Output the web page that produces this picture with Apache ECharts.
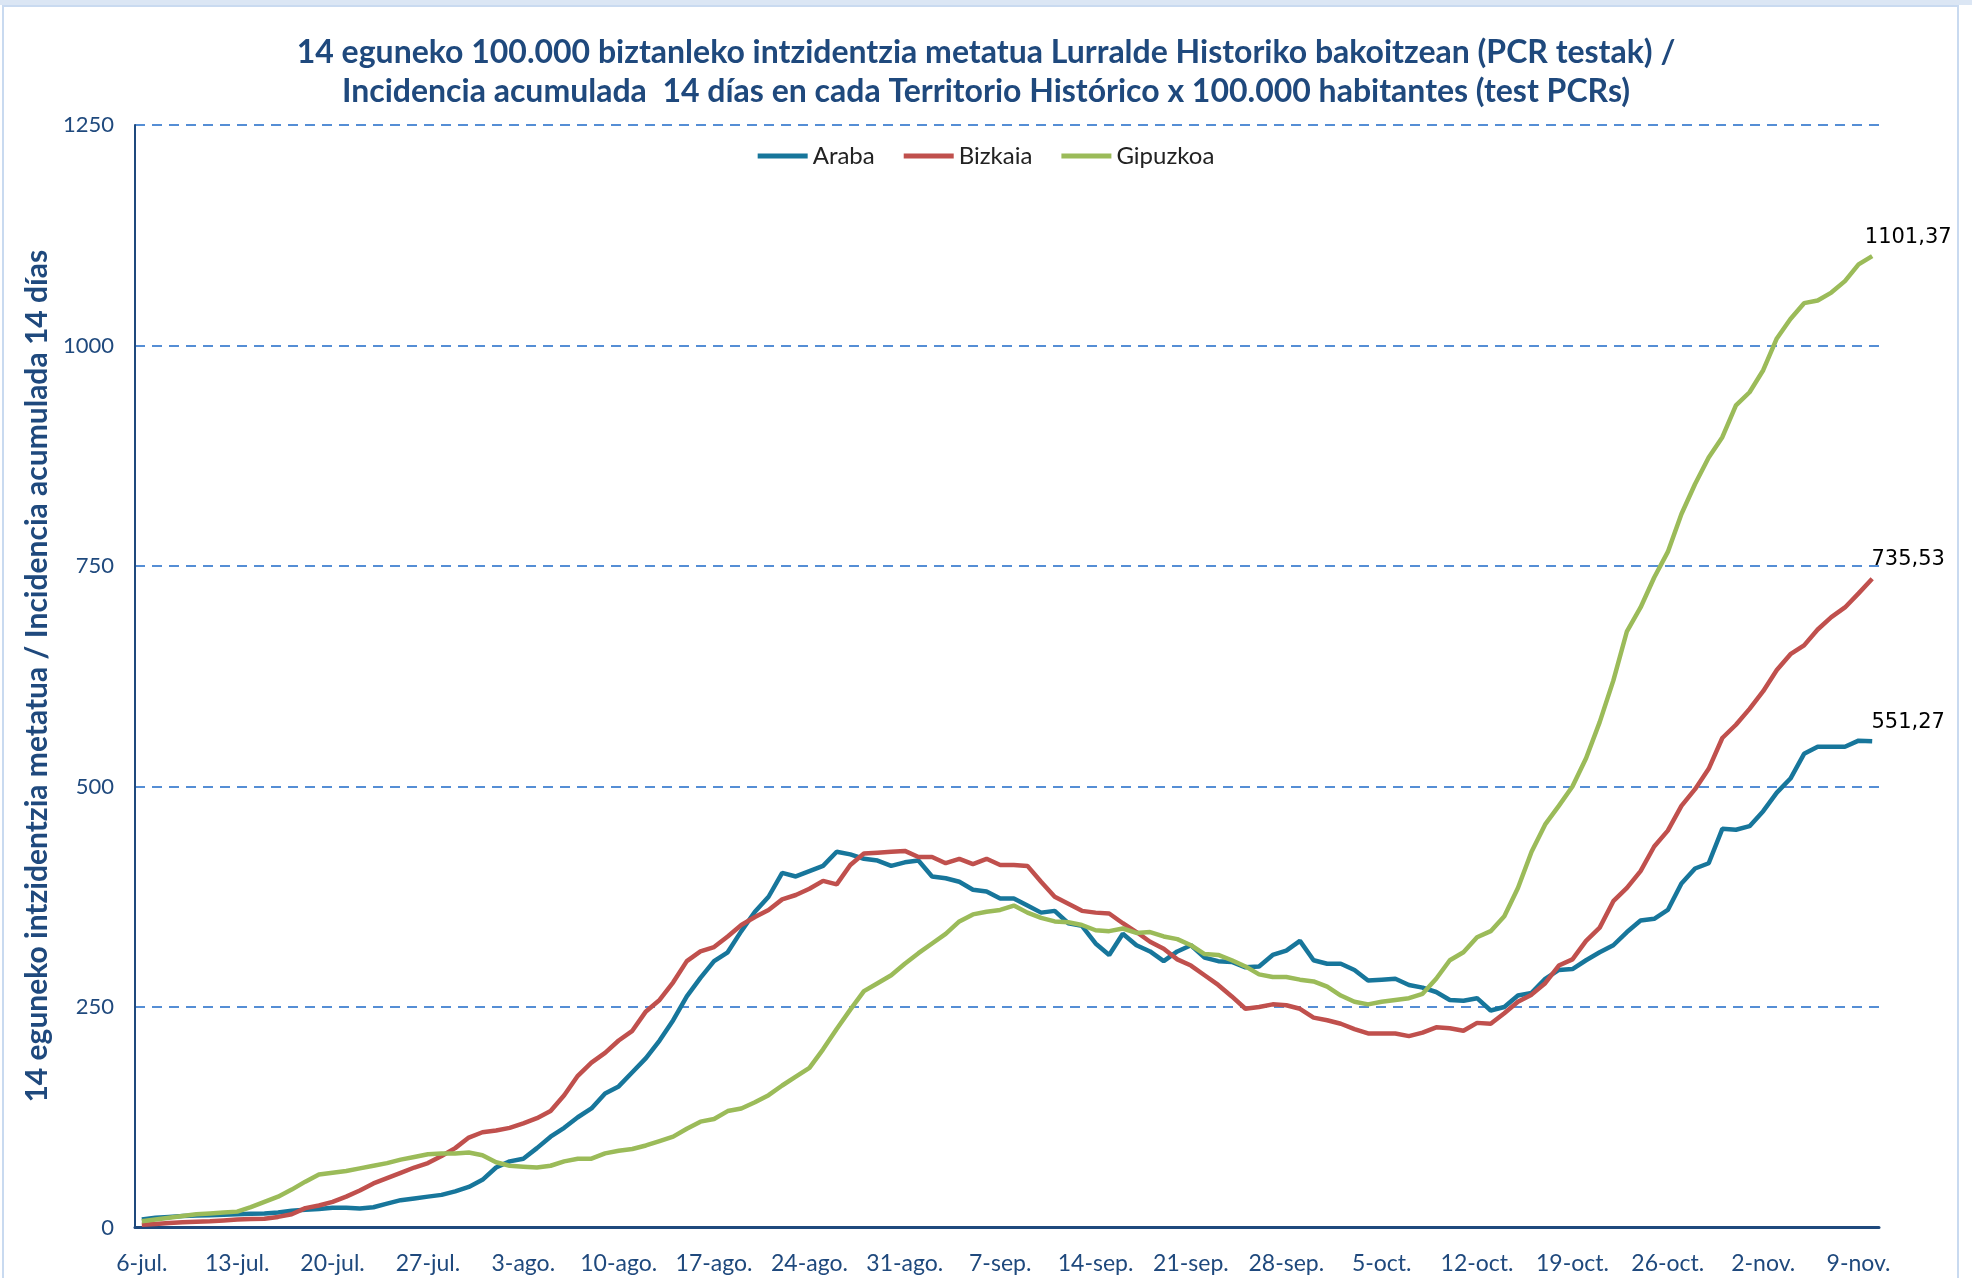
<!DOCTYPE html>
<html>
<head>
<meta charset="utf-8">
<script src="https://cdn.jsdelivr.net/npm/echarts@6/dist/echarts.min.js"></script>
<style>
  html, body { margin: 0; padding: 0; background: #fff; }
  #chart { position: absolute; left: 0; top: 0; width: 1972px; height: 1278px; }
  #topband { position: absolute; left: 0; top: 0; width: 1972px; height: 5px; background: #dbe6f4; }
  #frame { position: absolute; left: 2px; top: 5px; width: 1953px; height: 1300px; border: 2px solid #c9daf0; pointer-events: none; }
</style>
</head>
<body>
<div id="chart"></div>
<div id="topband"></div>
<div id="frame"></div>
<script>
// daily values, 6-jul. -> 10-nov. (128 days)
const startDay = [2020, 6, 6] // year, month index (0-based), day
const dayCount = 128
const monthNames = ['ene', 'feb', 'mar', 'abr', 'may', 'jun', 'jul', 'ago', 'sep', 'oct', 'nov', 'dic']

const seriesNames = ['Araba', 'Bizkaia', 'Gipuzkoa']
const seriesColors = ['#17769b', '#c0504d', '#9bbb59']

const araba = [
  9, 11, 12, 13, 13.5, 14, 14.5, 15, 15.5, 16, 17, 19, 20, 21, 22.5, 22.5, 21.5, 23, 27, 31, 33, 35,
  37, 41, 46, 54, 68, 75, 78, 90, 103, 113, 125, 135, 152, 160, 176, 192, 212, 235, 262, 283, 302,
  312, 336, 358, 375, 402, 398, 404, 410, 426, 423, 418, 416, 410, 414, 416, 398, 396, 392, 383, 381, 373,
  373, 365, 357, 359, 345, 342, 322, 309, 333, 320, 313, 302, 313, 320, 306, 302, 301, 295, 296, 309, 314,
  325, 303, 299, 299, 292, 280, 281, 282, 275, 272, 267, 258, 257, 260, 246, 250, 263, 266, 282, 292, 293,
  303, 312, 320, 335, 348, 350, 360, 390, 407, 413, 452, 451, 455, 472, 493, 509, 537, 545, 545, 545, 552, 551.27
]
const bizkaia = [
  3, 4, 5, 6, 6.5, 7, 8, 9, 9.5, 10, 12, 15, 22, 25, 29, 35, 42, 50, 56, 62, 68, 73,
  81, 90, 102, 108, 110, 113, 118, 124, 132, 150, 172, 187, 198, 212, 223, 245, 258, 278, 302, 313, 318,
  330, 343, 352, 360, 372, 377, 384, 393, 389, 411, 424, 425, 426, 427, 420, 420, 413, 418, 412, 418, 411,
  411, 410, 392, 375, 367, 359, 357, 356, 345, 335, 324, 316, 304, 297, 286, 275, 262, 248, 250, 253, 252,
  248, 238, 235, 231, 225, 220, 220, 220, 217, 221, 227, 226, 223, 232, 231, 243, 256, 264, 277, 297, 304,
  325, 340, 370, 385, 404, 432, 450, 478, 497, 520, 555, 570, 588, 608, 632, 650, 660, 678, 692, 703, 719, 735.53
]
const gipuzkoa = [
  7, 9, 11, 13, 15, 16, 17, 18, 23, 29, 35, 43, 52, 60, 62, 64, 67, 70, 73, 77, 80, 83,
  84, 84, 85, 82, 74, 70, 69, 68, 70, 75, 78, 78, 84, 87, 89, 93, 98, 103, 112, 120, 123,
  132, 135, 142, 150, 161, 171, 181, 202, 225, 247, 268, 277, 286, 299, 311, 322, 333, 347, 355, 358, 360,
  365, 357, 351, 347, 346, 343, 337, 336, 339, 334, 335, 330, 327, 320, 310, 309, 303, 296, 287, 284, 284,
  281, 279, 273, 263, 256, 253, 256, 258, 260, 265, 282, 303, 312, 329, 336, 353, 385, 426, 457, 478, 500,
  532, 573, 620, 676, 703, 737, 766, 809, 843, 873, 896, 932, 947, 972, 1008, 1030, 1048, 1051, 1060, 1073, 1092, 1101.37
]

const yMax = 1250
const yStep = 250

const categories = []
for (let i = 0; i < dayCount; i++) {
  const d = new Date(Date.UTC(startDay[0], startDay[1], startDay[2] + i))
  categories.push(d.getUTCDate() + '-' + monthNames[d.getUTCMonth()] + '.')
}

const navy = '#1f497d'
const font = 'Lato, "Open Sans", sans-serif'
const fmt = (v) => v.toFixed(2).replace('.', ',')

function makeSeries(name, values, color) {
  const last = values.length - 1
  return {
    name,
    type: 'line',
    data: values,
    showSymbol: false,
    smooth: false,
    lineStyle: { color, width: 4.5 },
    itemStyle: { color },
    markPoint: {
      symbol: 'circle',
      symbolSize: 1,
      itemStyle: { color: 'rgba(0,0,0,0)' },
      data: [{ coord: [categories[last], values[last]], value: values[last] }],
      label: {
        show: true,
        position: 'top',
        distance: 8,
        offset: [36, 0],
        color: '#000',
        fontFamily: '"DejaVu Sans", sans-serif',
        fontSize: 21,
        formatter: (p) => fmt(p.value),
      },
    },
  }
}

const chart = echarts.init(document.getElementById('chart'))
chart.setOption({
  animation: false,
  backgroundColor: '#fff',
  title: {
    text: '14 eguneko 100.000 biztanleko intzidentzia metatua Lurralde Historiko bakoitzean (PCR testak) /\nIncidencia acumulada  14 días en cada Territorio Histórico x 100.000 habitantes (test PCRs)',
    left: 'center',
    top: 28,
    textStyle: {
      color: navy,
      fontFamily: font,
      fontWeight: 'bold',
      fontSize: 32,
      lineHeight: 39,
    },
  },
  legend: {
    data: seriesNames,
    top: 139,
    left: 'center',
    icon: 'rect',
    itemWidth: 50,
    itemHeight: 5,
    itemGap: 29,
    textStyle: { color: '#222', fontFamily: font, fontSize: 24 },
  },
  grid: { left: 135, right: 93, top: 125, bottom: 50.5, containLabel: false },
  xAxis: {
    type: 'category',
    data: categories,
    boundaryGap: true,
    axisLine: { show: true, lineStyle: { color: navy, width: 3 } },
    axisTick: { show: false },
    axisLabel: {
      interval: 6,
      color: navy,
      fontFamily: font,
      fontSize: 23,
      margin: 25,
    },
    splitLine: { show: false },
  },
  yAxis: {
    type: 'value',
    min: 0,
    max: yMax,
    interval: yStep,
    name: '14 eguneko intzidentzia metatua / Incidencia acumulada 14 días',
    nameLocation: 'middle',
    nameGap: 82,
    nameTextStyle: {
      color: navy,
      fontFamily: font,
      fontWeight: 'bold',
      fontSize: 30,
    },
    axisLine: { show: true, lineStyle: { color: navy, width: 2 } },
    axisTick: { show: false },
    axisLabel: {
      color: navy,
      fontFamily: font,
      fontSize: 22,
      margin: 21,
      formatter: (v) => String(v),
    },
    splitLine: {
      show: true,
      lineStyle: { color: '#558ed5', width: 2, type: [10, 7] },
    },
  },
  series: [
    makeSeries(seriesNames[0], araba, seriesColors[0]),
    makeSeries(seriesNames[1], bizkaia, seriesColors[1]),
    makeSeries(seriesNames[2], gipuzkoa, seriesColors[2]),
  ],
})
</script>
</body>
</html>
